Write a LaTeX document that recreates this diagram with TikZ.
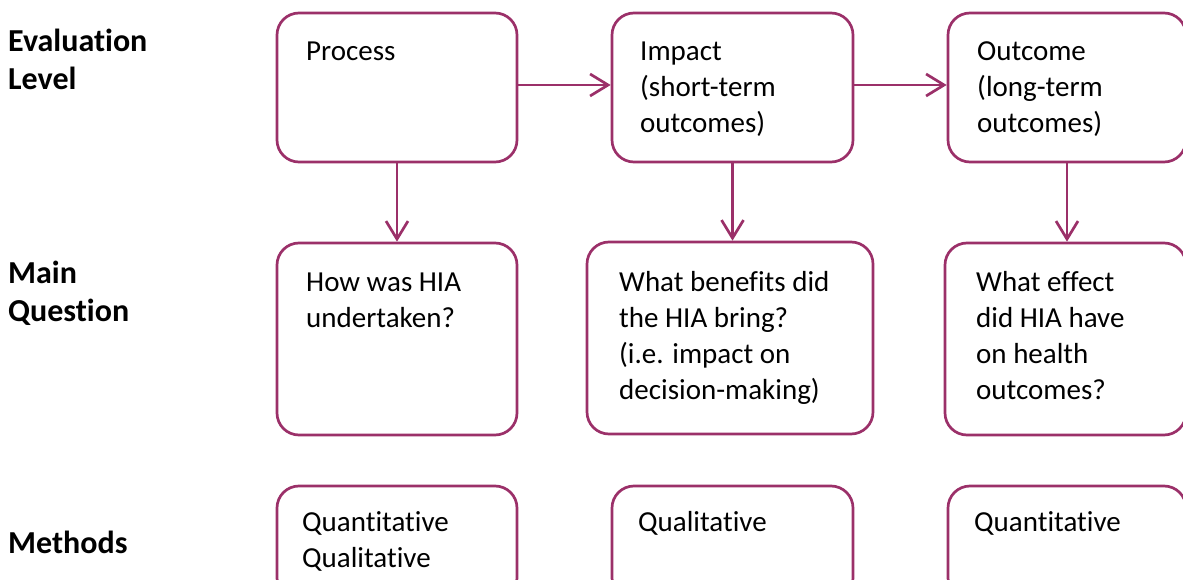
\documentclass[tikz,border=0pt]{standalone}
\usepackage{fontspec}
\setmainfont{Carlito}[RawFeature={-liga;-clig;-calt;-dlig}]
\usetikzlibrary{arrows.meta}
\definecolor{hiaplum}{RGB}{155,48,105}
\tikzset{
	stage/.style={draw=hiaplum,line width=2.7pt,rounded corners=22pt,inner sep=0pt},
	boxtext/.style={anchor=north west,inner sep=0pt,align=left,font=\fontsize{29}{36}\selectfont},
	rowlabel/.style={anchor=north west,inner sep=0pt,align=left,font=\fontsize{32}{38}\selectfont\bfseries},
	link/.style={hiaplum,line width=2.7pt,-{Straight Barb[length=18pt,width=22pt]}}
}
\begin{document}
\begin{tikzpicture}[x=1pt,y=-1pt]
	\useasboundingbox (0,0) rectangle (1183,580);
	\clip (0,0) rectangle (1183,580);
	% row labels
	\node[rowlabel] (lev) at (8,25) {\strut Evaluation\\Level};
	\node[rowlabel] (que) at (8,256.4) {\strut Main\\Question};
	\node[rowlabel] (met) at (8,526.4) {\strut Methods};
	% evaluation level
	\node[stage,minimum width=240pt,minimum height=149pt] (p1) at (397,87.5) {};
	\node[stage,minimum width=241pt,minimum height=149pt] (p2) at (732.5,87.5) {};
	\node[stage,minimum width=238pt,minimum height=149pt] (p3) at (1067,87.5) {};
	% main question
	\node[stage,minimum width=240pt,minimum height=192pt] (q1) at (397,339) {};
	\node[stage,minimum width=286pt,minimum height=192pt] (q2) at (730,338) {};
	\node[stage,minimum width=241pt,minimum height=192pt] (q3) at (1065.5,339) {};
	% methods
	\node[stage,minimum width=240pt,minimum height=114pt] (m1) at (397,543) {};
	\node[stage,minimum width=241pt,minimum height=114pt] (m2) at (732.5,543) {};
	\node[stage,minimum width=238pt,minimum height=114pt] (m3) at (1067,543) {};
	% texts
	\node[boxtext] (t1) at (306,34.8) {\strut Process};
	\node[boxtext] (t2) at (640,34.8) {\strut Impact\\(short-term\\outcomes)};
	\node[boxtext] (t3) at (977,34.8) {\strut Outcome\\(long-term\\outcomes)};
	\node[boxtext] (t4) at (306,266.3) {\strut How was HIA\\undertaken?};
	\node[boxtext] (t5) at (619,265.8) {\strut What benefits did\\the HIA bring?\\(i.e. impact on\\decision-making)};
	\node[boxtext] (t6) at (976,266.3) {\strut What effect\\did HIA have\\on health\\outcomes?};
	\node[boxtext] (t7) at (302,505.8) {\strut Quantitative\\Qualitative};
	\node[boxtext] (t8) at (638,505.8) {\strut Qualitative};
	\node[boxtext] (t9) at (974,505.8) {\strut Quantitative};
	% arrows
	\draw[link] ([yshift=2.5pt]p1.east) -- ([yshift=2.5pt]p2.west);
	\draw[link] ([yshift=2.5pt]p2.east) -- ([yshift=2.5pt]p3.west);
	\draw[link] (p1.south) -- (p1.south |- q1.north);
	\draw[link] (p2.south) -- (p2.south |- q2.north);
	\draw[link] (p3.south) -- (p3.south |- q3.north);
\end{tikzpicture}
\end{document}
